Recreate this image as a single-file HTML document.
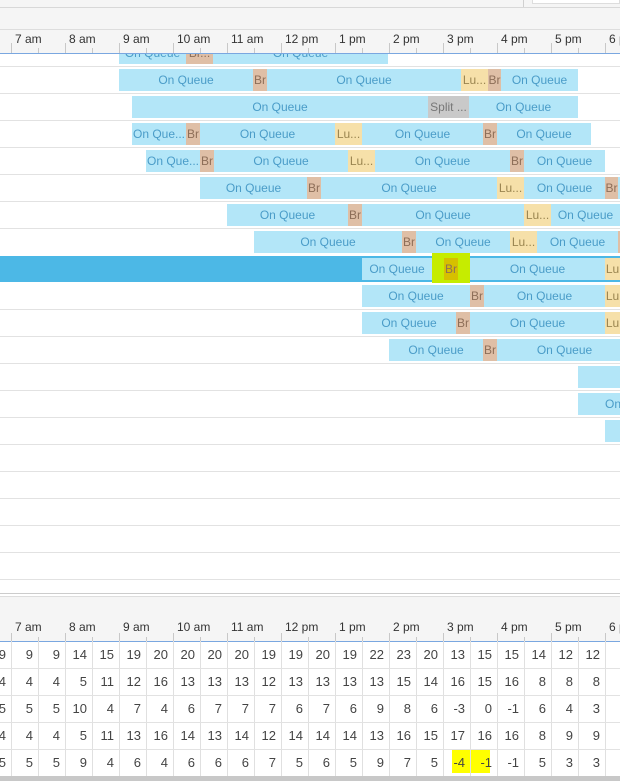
<!DOCTYPE html>
<html><head><meta charset="utf-8"><style>
*{margin:0;padding:0;box-sizing:border-box}
body{width:620px;height:781px;overflow:hidden;background:#fff;font-family:"Liberation Sans",sans-serif;position:relative}
.a{position:absolute}
.b{position:absolute;height:22px;line-height:22px;font-size:12px;text-align:center;white-space:nowrap;overflow:hidden;background:#b3e6f8;color:#4a9cc8}
.br{background:#dfbfa6;color:#8d6e58}
.lu{background:#f6e0a9;color:#9a8550}
.sp{background:#c9c9c9;color:#777}
.hl{position:absolute;height:1px;background:#e2e2e2;left:0;width:620px}
.lbl{position:absolute;font-size:12px;color:#333;top:0;white-space:nowrap}
.mt{position:absolute;width:1px;background:#c8c8c8}
.c{position:absolute;width:27px;text-align:right;padding-right:5px;font-size:13px;color:#444;height:27px;line-height:27px}
.vl{position:absolute;width:1px;background:#e0e0e0;top:641px;height:137px}
</style></head><body>

<!-- gantt bars -->
<div class="b" style="left:119px;top:42px;width:67px">On Queue</div><div class="b br" style="left:186px;top:42px;width:27px">Br...</div><div class="b" style="left:213px;top:42px;width:175px">On Queue</div>

<div class="b" style="left:119px;top:69px;width:134px">On Queue</div><div class="b br" style="left:253px;top:69px;width:14px">Br</div><div class="b" style="left:267px;top:69px;width:194px">On Queue</div><div class="b lu" style="left:461px;top:69px;width:27px">Lu...</div><div class="b br" style="left:488px;top:69px;width:13px">Br</div><div class="b" style="left:501px;top:69px;width:77px">On Queue</div>

<div class="b" style="left:132px;top:96px;width:296px">On Queue</div><div class="b sp" style="left:428px;top:96px;width:41px">Split ...</div><div class="b" style="left:469px;top:96px;width:109px">On Queue</div>

<div class="b" style="left:132px;top:123px;width:54px">On Que...</div><div class="b br" style="left:186px;top:123px;width:14px">Br</div><div class="b" style="left:200px;top:123px;width:135px">On Queue</div><div class="b lu" style="left:335px;top:123px;width:27px">Lu...</div><div class="b" style="left:362px;top:123px;width:121px">On Queue</div><div class="b br" style="left:483px;top:123px;width:14px">Br</div><div class="b" style="left:497px;top:123px;width:94px">On Queue</div>

<div class="b" style="left:146px;top:150px;width:54px">On Que...</div><div class="b br" style="left:200px;top:150px;width:14px">Br</div><div class="b" style="left:214px;top:150px;width:134px">On Queue</div><div class="b lu" style="left:348px;top:150px;width:27px">Lu...</div><div class="b" style="left:375px;top:150px;width:135px">On Queue</div><div class="b br" style="left:510px;top:150px;width:14px">Br</div><div class="b" style="left:524px;top:150px;width:81px">On Queue</div>

<div class="b" style="left:200px;top:177px;width:107px">On Queue</div><div class="b br" style="left:307px;top:177px;width:14px">Br</div><div class="b" style="left:321px;top:177px;width:176px">On Queue</div><div class="b lu" style="left:497px;top:177px;width:27px">Lu...</div><div class="b" style="left:524px;top:177px;width:81px">On Queue</div><div class="b br" style="left:605px;top:177px;width:13px">Br</div><div class="b" style="left:618px;top:177px;width:2px"></div>

<div class="b" style="left:227px;top:204px;width:121px">On Queue</div><div class="b br" style="left:348px;top:204px;width:14px">Br</div><div class="b" style="left:362px;top:204px;width:162px">On Queue</div><div class="b lu" style="left:524px;top:204px;width:27px">Lu...</div><div class="b" style="left:551px;top:204px;width:69px">On Queue</div>

<div class="b" style="left:254px;top:231px;width:148px">On Queue</div><div class="b br" style="left:402px;top:231px;width:14px">Br</div><div class="b" style="left:416px;top:231px;width:94px">On Queue</div><div class="b lu" style="left:510px;top:231px;width:27px">Lu...</div><div class="b" style="left:537px;top:231px;width:81px">On Queue</div><div class="b br" style="left:618px;top:231px;width:2px"></div>

<div class="a" style="left:0;top:256px;width:620px;height:26px;background:#4cb8e6"></div>
<div class="b" style="left:362px;top:258px;width:70px">On Queue</div><div class="a" style="left:432px;top:253px;width:38px;height:30px;background:#c6ec00"></div><div class="b br" style="left:444px;top:258px;width:14px;background:#d6c000">Br</div><div class="b" style="left:470px;top:258px;width:135px">On Queue</div><div class="b lu" style="left:605px;top:258px;width:15px">Lu</div>

<div class="b" style="left:362px;top:285px;width:108px">On Queue</div><div class="b br" style="left:470px;top:285px;width:14px">Br</div><div class="b" style="left:484px;top:285px;width:121px">On Queue</div><div class="b lu" style="left:605px;top:285px;width:15px">Lu</div>

<div class="b" style="left:362px;top:312px;width:94px">On Queue</div><div class="b br" style="left:456px;top:312px;width:14px">Br</div><div class="b" style="left:470px;top:312px;width:135px">On Queue</div><div class="b lu" style="left:605px;top:312px;width:15px">Lu</div>

<div class="b" style="left:389px;top:339px;width:94px">On Queue</div><div class="b br" style="left:483px;top:339px;width:14px">Br</div><div class="b" style="left:497px;top:339px;width:135px">On Queue</div>

<div class="b" style="left:578px;top:366px;width:42px"></div>
<div class="b" style="left:578px;top:393px;width:42px;text-align:left;padding-left:27px">On</div>
<div class="b" style="left:605px;top:420px;width:15px"></div>

<div class="hl" style="top:66px"></div><div class="hl" style="top:93px"></div><div class="hl" style="top:120px"></div><div class="hl" style="top:147px"></div><div class="hl" style="top:174px"></div><div class="hl" style="top:201px"></div><div class="hl" style="top:228px"></div><div class="hl" style="top:309px"></div><div class="hl" style="top:336px"></div><div class="hl" style="top:363px"></div><div class="hl" style="top:390px"></div><div class="hl" style="top:417px"></div><div class="hl" style="top:444px"></div><div class="hl" style="top:471px"></div><div class="hl" style="top:498px"></div><div class="hl" style="top:525px"></div><div class="hl" style="top:552px"></div><div class="hl" style="top:579px"></div>

<!-- top header -->
<div class="a" style="left:0;top:0;width:620px;height:53px;background:#f5f5f5"></div>
<div class="a" style="left:0;top:7px;width:620px;height:1px;background:#d8d8d8"></div>
<div class="a" style="left:523px;top:0;width:1px;height:7px;background:#d0d0d0"></div>
<div class="a" style="left:532px;top:0;width:88px;height:4px;border:1px solid #ddd;border-top:0;background:#fff"></div>
<div class="a" style="left:0;top:29px;width:620px;height:1px;background:#ddd"></div>
<div class="a" style="left:0;top:53px;width:620px;height:1px;background:#7aa7e0"></div>
<div class="a" style="left:0;top:30px;width:620px;height:23px;overflow:hidden">
<div class="lbl" style="left:15px;top:2px">7 am</div><div class="lbl" style="left:69px;top:2px">8 am</div><div class="lbl" style="left:123px;top:2px">9 am</div><div class="lbl" style="left:177px;top:2px">10 am</div><div class="lbl" style="left:231px;top:2px">11 am</div><div class="lbl" style="left:285px;top:2px">12 pm</div><div class="lbl" style="left:339px;top:2px">1 pm</div><div class="lbl" style="left:393px;top:2px">2 pm</div><div class="lbl" style="left:447px;top:2px">3 pm</div><div class="lbl" style="left:501px;top:2px">4 pm</div><div class="lbl" style="left:555px;top:2px">5 pm</div><div class="lbl" style="left:609px;top:2px">6 pm</div>
<div class="mt" style="left:11px;top:13px;height:10px"></div><div class="mt" style="left:38px;top:18px;height:5px"></div><div class="mt" style="left:65px;top:13px;height:10px"></div><div class="mt" style="left:92px;top:18px;height:5px"></div><div class="mt" style="left:119px;top:13px;height:10px"></div><div class="mt" style="left:146px;top:18px;height:5px"></div><div class="mt" style="left:173px;top:13px;height:10px"></div><div class="mt" style="left:200px;top:18px;height:5px"></div><div class="mt" style="left:227px;top:13px;height:10px"></div><div class="mt" style="left:254px;top:18px;height:5px"></div><div class="mt" style="left:281px;top:13px;height:10px"></div><div class="mt" style="left:308px;top:18px;height:5px"></div><div class="mt" style="left:335px;top:13px;height:10px"></div><div class="mt" style="left:362px;top:18px;height:5px"></div><div class="mt" style="left:389px;top:13px;height:10px"></div><div class="mt" style="left:416px;top:18px;height:5px"></div><div class="mt" style="left:443px;top:13px;height:10px"></div><div class="mt" style="left:470px;top:18px;height:5px"></div><div class="mt" style="left:497px;top:13px;height:10px"></div><div class="mt" style="left:524px;top:18px;height:5px"></div><div class="mt" style="left:551px;top:13px;height:10px"></div><div class="mt" style="left:578px;top:18px;height:5px"></div><div class="mt" style="left:605px;top:13px;height:10px"></div>
</div>

<!-- bottom -->
<div class="a" style="left:0;top:593px;width:620px;height:1px;background:#ccc"></div>
<div class="a" style="left:0;top:596px;width:620px;height:45px;background:#f5f5f5;border-top:1px solid #ddd"></div>
<div class="a" style="left:0;top:641px;width:620px;height:1px;background:#7aa7e0"></div>
<div class="a" style="left:0;top:608px;width:620px;height:33px;overflow:hidden">
<div class="lbl" style="left:15px;top:12px">7 am</div><div class="lbl" style="left:69px;top:12px">8 am</div><div class="lbl" style="left:123px;top:12px">9 am</div><div class="lbl" style="left:177px;top:12px">10 am</div><div class="lbl" style="left:231px;top:12px">11 am</div><div class="lbl" style="left:285px;top:12px">12 pm</div><div class="lbl" style="left:339px;top:12px">1 pm</div><div class="lbl" style="left:393px;top:12px">2 pm</div><div class="lbl" style="left:447px;top:12px">3 pm</div><div class="lbl" style="left:501px;top:12px">4 pm</div><div class="lbl" style="left:555px;top:12px">5 pm</div><div class="lbl" style="left:609px;top:12px">6 pm</div>
<div class="mt" style="left:11px;top:25px;height:8px"></div><div class="mt" style="left:38px;top:29px;height:4px"></div><div class="mt" style="left:65px;top:25px;height:8px"></div><div class="mt" style="left:92px;top:29px;height:4px"></div><div class="mt" style="left:119px;top:25px;height:8px"></div><div class="mt" style="left:146px;top:29px;height:4px"></div><div class="mt" style="left:173px;top:25px;height:8px"></div><div class="mt" style="left:200px;top:29px;height:4px"></div><div class="mt" style="left:227px;top:25px;height:8px"></div><div class="mt" style="left:254px;top:29px;height:4px"></div><div class="mt" style="left:281px;top:25px;height:8px"></div><div class="mt" style="left:308px;top:29px;height:4px"></div><div class="mt" style="left:335px;top:25px;height:8px"></div><div class="mt" style="left:362px;top:29px;height:4px"></div><div class="mt" style="left:389px;top:25px;height:8px"></div><div class="mt" style="left:416px;top:29px;height:4px"></div><div class="mt" style="left:443px;top:25px;height:8px"></div><div class="mt" style="left:470px;top:29px;height:4px"></div><div class="mt" style="left:497px;top:25px;height:8px"></div><div class="mt" style="left:524px;top:29px;height:4px"></div><div class="mt" style="left:551px;top:25px;height:8px"></div><div class="mt" style="left:578px;top:29px;height:4px"></div><div class="mt" style="left:605px;top:25px;height:8px"></div>
</div>

<div class="a" style="left:452px;top:749px;width:38px;height:24px;background:#ffff00"></div>

<div class="vl" style="left:11px"></div><div class="vl" style="left:38px"></div><div class="vl" style="left:65px"></div><div class="vl" style="left:92px"></div><div class="vl" style="left:119px"></div><div class="vl" style="left:146px"></div><div class="vl" style="left:173px"></div><div class="vl" style="left:200px"></div><div class="vl" style="left:227px"></div><div class="vl" style="left:254px"></div><div class="vl" style="left:281px"></div><div class="vl" style="left:308px"></div><div class="vl" style="left:335px"></div><div class="vl" style="left:362px"></div><div class="vl" style="left:389px"></div><div class="vl" style="left:416px"></div><div class="vl" style="left:443px"></div><div class="vl" style="left:470px"></div><div class="vl" style="left:497px"></div><div class="vl" style="left:524px"></div><div class="vl" style="left:551px"></div><div class="vl" style="left:578px"></div><div class="vl" style="left:605px"></div>
<div class="hl" style="top:668px"></div><div class="hl" style="top:695px"></div><div class="hl" style="top:722px"></div><div class="hl" style="top:749px"></div>
<div class="a" style="left:0;top:776px;width:620px;height:5px;background:#c8c8c8"></div>

<div class="a" style="left:-16px;top:641px;width:640px;height:27px">
<div class="c" style="left:0">9</div><div class="c" style="left:27px">9</div><div class="c" style="left:54px">9</div><div class="c" style="left:81px">14</div><div class="c" style="left:108px">15</div><div class="c" style="left:135px">19</div><div class="c" style="left:162px">20</div><div class="c" style="left:189px">20</div><div class="c" style="left:216px">20</div><div class="c" style="left:243px">20</div><div class="c" style="left:270px">19</div><div class="c" style="left:297px">19</div><div class="c" style="left:324px">20</div><div class="c" style="left:351px">19</div><div class="c" style="left:378px">22</div><div class="c" style="left:405px">23</div><div class="c" style="left:432px">20</div><div class="c" style="left:459px">13</div><div class="c" style="left:486px">15</div><div class="c" style="left:513px">15</div><div class="c" style="left:540px">14</div><div class="c" style="left:567px">12</div><div class="c" style="left:594px">12</div>
</div>
<div class="a" style="left:-16px;top:668px;width:640px;height:27px">
<div class="c" style="left:0">4</div><div class="c" style="left:27px">4</div><div class="c" style="left:54px">4</div><div class="c" style="left:81px">5</div><div class="c" style="left:108px">11</div><div class="c" style="left:135px">12</div><div class="c" style="left:162px">16</div><div class="c" style="left:189px">13</div><div class="c" style="left:216px">13</div><div class="c" style="left:243px">13</div><div class="c" style="left:270px">12</div><div class="c" style="left:297px">13</div><div class="c" style="left:324px">13</div><div class="c" style="left:351px">13</div><div class="c" style="left:378px">13</div><div class="c" style="left:405px">15</div><div class="c" style="left:432px">14</div><div class="c" style="left:459px">16</div><div class="c" style="left:486px">15</div><div class="c" style="left:513px">16</div><div class="c" style="left:540px">8</div><div class="c" style="left:567px">8</div><div class="c" style="left:594px">8</div>
</div>
<div class="a" style="left:-16px;top:695px;width:640px;height:27px">
<div class="c" style="left:0">5</div><div class="c" style="left:27px">5</div><div class="c" style="left:54px">5</div><div class="c" style="left:81px">10</div><div class="c" style="left:108px">4</div><div class="c" style="left:135px">7</div><div class="c" style="left:162px">4</div><div class="c" style="left:189px">6</div><div class="c" style="left:216px">7</div><div class="c" style="left:243px">7</div><div class="c" style="left:270px">7</div><div class="c" style="left:297px">6</div><div class="c" style="left:324px">7</div><div class="c" style="left:351px">6</div><div class="c" style="left:378px">9</div><div class="c" style="left:405px">8</div><div class="c" style="left:432px">6</div><div class="c" style="left:459px">-3</div><div class="c" style="left:486px">0</div><div class="c" style="left:513px">-1</div><div class="c" style="left:540px">6</div><div class="c" style="left:567px">4</div><div class="c" style="left:594px">3</div>
</div>
<div class="a" style="left:-16px;top:722px;width:640px;height:27px">
<div class="c" style="left:0">4</div><div class="c" style="left:27px">4</div><div class="c" style="left:54px">4</div><div class="c" style="left:81px">5</div><div class="c" style="left:108px">11</div><div class="c" style="left:135px">13</div><div class="c" style="left:162px">16</div><div class="c" style="left:189px">14</div><div class="c" style="left:216px">13</div><div class="c" style="left:243px">14</div><div class="c" style="left:270px">12</div><div class="c" style="left:297px">14</div><div class="c" style="left:324px">14</div><div class="c" style="left:351px">14</div><div class="c" style="left:378px">13</div><div class="c" style="left:405px">16</div><div class="c" style="left:432px">15</div><div class="c" style="left:459px">17</div><div class="c" style="left:486px">16</div><div class="c" style="left:513px">16</div><div class="c" style="left:540px">8</div><div class="c" style="left:567px">9</div><div class="c" style="left:594px">9</div>
</div>
<div class="a" style="left:-16px;top:749px;width:640px;height:27px">
<div class="c" style="left:0">5</div><div class="c" style="left:27px">5</div><div class="c" style="left:54px">5</div><div class="c" style="left:81px">9</div><div class="c" style="left:108px">4</div><div class="c" style="left:135px">6</div><div class="c" style="left:162px">4</div><div class="c" style="left:189px">6</div><div class="c" style="left:216px">6</div><div class="c" style="left:243px">6</div><div class="c" style="left:270px">7</div><div class="c" style="left:297px">5</div><div class="c" style="left:324px">6</div><div class="c" style="left:351px">5</div><div class="c" style="left:378px">9</div><div class="c" style="left:405px">7</div><div class="c" style="left:432px">5</div><div class="c" style="left:459px">-4</div><div class="c" style="left:486px">-1</div><div class="c" style="left:513px">-1</div><div class="c" style="left:540px">5</div><div class="c" style="left:567px">3</div><div class="c" style="left:594px">3</div>
</div>
</body></html>
